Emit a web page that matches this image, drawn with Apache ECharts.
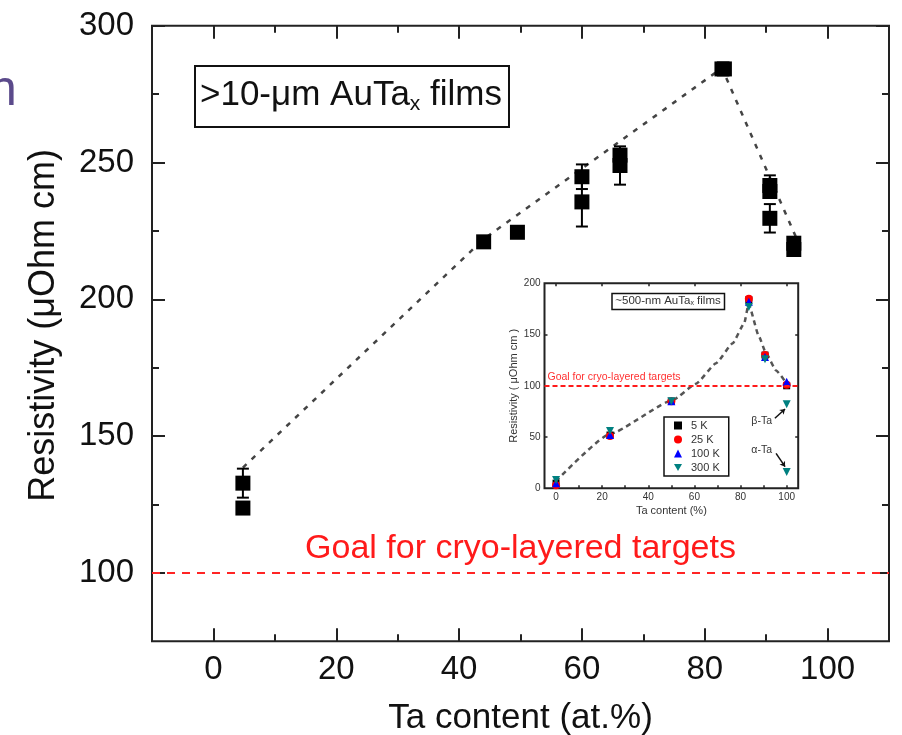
<!DOCTYPE html>
<html><head><meta charset="utf-8">
<script src="https://cdn.jsdelivr.net/npm/echarts@6/dist/echarts.min.js"></script>
<style>html,body{margin:0;padding:0;background:#fff}#c{width:902px;height:735px}</style>
</head><body><div id="c"></div>
<script>
// ---------- main plot data (>10-um AuTa_x films) ----------
const taContent   = [4.8, 4.8, 44, 49.5, 60, 60, 66.2, 66.2, 82.8, 83.2, 90.6, 90.6, 90.6, 94.5, 94.5];
const resistivity = [132.8, 123.7, 221, 224.5, 244.8, 235.6, 252.7, 248.9, 284.2, 284.2, 241.6, 239.4, 229.6, 220.5, 218.2];
const resError    = [5.3, 0, 0, 0, 4.5, 9, 0, 7, 0, 0, 3.7, 0, 5.2, 0, 0];
const guideX = [4.8, 44, 82.8, 94.8];
const guideY = [138.5, 222, 284.5, 223];
const goalValue = 100;
const goalLabel = 'Goal for cryo-layered targets';
const xMajorTicks = [0, 20, 40, 60, 80, 100];
const xMinorTicks = [10, 30, 50, 70, 90];
const yMajorTicks = [100, 150, 200, 250, 300];
const yMinorTicks = [125, 175, 225, 275];

// ---------- inset data (~500-nm AuTa_x films) ----------
const insetX    = [0, 23.4, 50, 83.6, 90.6, 100];
const inset5K   = [5, 52, 85, 184, 130, 100];
const inset25K  = [3, 51, 85, 185, 130, 101];
const inset100K = [5, 52, 85, 182, 128, 104];
const inset300K = [8, 56, 85, 177, 126, 82];
const alphaTaX = 100, alphaTa300K = 16;
const insetGuideX = [0, 23.4, 50.6, 60.7, 69.4, 76.6, 81.6, 83.5, 88, 91, 95.4, 100];
const insetGuideY = [7, 53, 86, 102, 122, 141.5, 161, 180, 148, 132, 115, 102];
const insetXTicks  = [0, 10, 20, 30, 40, 50, 60, 70, 80, 90, 100];
const insetXLabels = [0, 20, 40, 60, 80, 100];
const insetYTicks  = [50, 100, 150];
const insetYLabels = [0, 50, 100, 150, 200];
const legendNames = ['5 K', '25 K', '100 K', '300 K'];

const FONT = 'Liberation Sans, Arial, sans-serif';
const TXT = '#111';

function ax(opts) {
  const o = {
    type: 'value', gridIndex: opts.grid, min: opts.min, max: opts.max, position: opts.pos,
    axisLine: { show: false, onZero: false }, splitLine: { show: false },
    axisTick: { show: true, inside: true, length: opts.len, customValues: opts.ticks,
                lineStyle: { color: '#222', width: opts.tw || 2 } },
    axisLabel: opts.labels ? { show: true, customValues: opts.labels, fontSize: opts.fs,
                color: opts.lc || TXT, fontFamily: FONT, margin: opts.margin } : { show: false }
  };
  if (opts.name) {
    o.name = opts.name; o.nameLocation = 'middle'; o.nameGap = opts.nameGap;
    o.nameTextStyle = { fontSize: opts.nfs, color: opts.lc || TXT, fontFamily: FONT, padding: opts.npad || 0 };
  }
  return o;
}

const xAxes = [
  ax({grid:0, min:-10, max:110, pos:'bottom', len:13, ticks:xMajorTicks, labels:xMajorTicks, fs:33, margin:12,
      name:'Ta content (at.%)', nameGap:60, nfs:35}),
  ax({grid:0, min:-10, max:110, pos:'bottom', len:7, ticks:xMinorTicks}),
  ax({grid:0, min:-10, max:110, pos:'top', len:13, ticks:xMajorTicks}),
  ax({grid:0, min:-10, max:110, pos:'top', len:7, ticks:xMinorTicks}),
  ax({grid:1, min:-5, max:105, pos:'bottom', len:3, tw:1.5, ticks:insetXTicks, labels:insetXLabels, fs:10, margin:4,
      lc:'#333', name:'Ta content (%)', nameGap:17, nfs:11}),
  ax({grid:1, min:-5, max:105, pos:'top', len:3, tw:1.5, ticks:insetXLabels})
];
const yAxes = [
  ax({grid:0, min:75, max:300, pos:'left', len:13, ticks:yMajorTicks, labels:yMajorTicks, fs:33, margin:18,
      name:'Resistivity (μOhm cm)', nameGap:90, nfs:36, npad:[0, 0, 0, 16]}),
  ax({grid:0, min:75, max:300, pos:'left', len:7, ticks:yMinorTicks}),
  ax({grid:0, min:75, max:300, pos:'right', len:13, ticks:yMajorTicks}),
  ax({grid:0, min:75, max:300, pos:'right', len:7, ticks:yMinorTicks}),
  ax({grid:1, min:0, max:200, pos:'left', len:3, tw:1.5, ticks:insetYTicks, labels:insetYLabels, fs:10, margin:4,
      lc:'#333', name:'Resistivity ( μOhm cm )', nameGap:24, nfs:11}),
  ax({grid:1, min:0, max:200, pos:'right', len:3, tw:1.5, ticks:insetYTicks})
];

const mainPoints = taContent.map((x, i) => [x, resistivity[i], resError[i]]);
const pairs = (xs, ys) => xs.map((x, i) => [x, ys[i]]);
const invTri = 'path://M0,0L10,0L5,9Z';

const option = {
  animation: false,
  backgroundColor: '#fff',
  grid: [
    { left: 152, right: 13, top: 25.7, bottom: 93.7, show: true, borderColor: '#222', borderWidth: 2,
      backgroundColor: '#fff', outerBoundsMode: 'none', containLabel: false },
    { left: 544.5, right: 103.8, top: 283.3, bottom: 246.7, show: true, borderColor: '#222', borderWidth: 2,
      backgroundColor: '#fff', outerBoundsMode: 'none', containLabel: false }
  ],
  xAxis: xAxes,
  yAxis: yAxes,
  legend: {
    data: legendNames, orient: 'vertical', left: 664, top: 417,
    borderColor: '#111', borderWidth: 1.5, padding: [3, 9, 3, 10], itemGap: 3,
    itemWidth: 8, itemHeight: 8, backgroundColor: '#fff',
    textStyle: { fontSize: 11, color: '#333', fontFamily: FONT, padding: [0, 0, 0, 4] }
  },
  graphic: [
    { type: 'text', left: -11, top: 66, z: 100,
      style: { text: 'n', fontSize: 50, fill: '#5b4a8b', fontFamily: FONT } },
    { type: 'rect', shape: { x: 195, y: 66, width: 314, height: 61 }, z: 50,
      style: { fill: '#fff', stroke: '#111', lineWidth: 2 } },
    { type: 'text', x: 351, y: 95, z: 51,
      style: { text: '{a|>10-μm AuTa}{s|x}{a| films}', align: 'center', verticalAlign: 'middle',
               rich: { a: { fontSize: 35, lineHeight: 40, fontFamily: FONT, fill: TXT },
                       s: { fontSize: 21, lineHeight: 10, verticalAlign: 'bottom', fontFamily: FONT, fill: TXT } } } },
    { type: 'rect', shape: { x: 612, y: 293.5, width: 112.5, height: 16 }, z: 50,
      style: { fill: '#fff', stroke: '#111', lineWidth: 1.5 } },
    { type: 'text', x: 668, y: 301, z: 51,
      style: { text: '{a|~500-nm AuTa}{s|x}{a| films}', align: 'center', verticalAlign: 'middle',
               rich: { a: { fontSize: 11.5, lineHeight: 12, fontFamily: FONT, fill: '#333' },
                       s: { fontSize: 7, lineHeight: 3, verticalAlign: 'bottom', fontFamily: FONT, fill: '#333' } } } },
    { type: 'text', x: 772, y: 421, z: 60,
      style: { text: 'β-Ta', align: 'right', verticalAlign: 'middle', fontSize: 10.5, fill: '#333', fontFamily: FONT } },
    { type: 'text', x: 772, y: 450, z: 60,
      style: { text: 'α-Ta', align: 'right', verticalAlign: 'middle', fontSize: 10.5, fill: '#333', fontFamily: FONT } }
  ],
  series: [
    { type: 'line', name: 'guide', xAxisIndex: 0, yAxisIndex: 0, data: pairs(guideX, guideY),
      symbol: 'none', lineStyle: { color: '#444', width: 2.5, type: [5, 7] }, z: 2,
      markLine: { silent: true, symbol: ['none', 'none'], animation: false,
        data: [{ yAxis: goalValue }],
        lineStyle: { color: '#ff2424', width: 1.8, type: [8, 7] },
        label: { show: true, position: 'insideMiddleTop', formatter: goalLabel, fontSize: 34,
                 color: '#ff1a1a', fontFamily: FONT, distance: 7 } } },
    { type: 'custom', name: 'err', xAxisIndex: 0, yAxisIndex: 0, data: mainPoints, z: 3,
      encode: { x: 0, y: 1 },
      renderItem: function (params, api) {
        const x = api.value(0), y = api.value(1), e = api.value(2);
        if (!e) return null;
        const t = api.coord([x, y + e]), b = api.coord([x, y - e]);
        const hw = 6, st = { stroke: '#000', lineWidth: 2 };
        return { type: 'group', children: [
          { type: 'line', shape: { x1: t[0], y1: t[1], x2: b[0], y2: b[1] }, style: st },
          { type: 'line', shape: { x1: t[0] - hw, y1: t[1], x2: t[0] + hw, y2: t[1] }, style: st },
          { type: 'line', shape: { x1: b[0] - hw, y1: b[1], x2: b[0] + hw, y2: b[1] }, style: st }
        ] };
      } },
    { type: 'scatter', name: 'main', xAxisIndex: 0, yAxisIndex: 0, data: mainPoints, z: 4,
      symbol: 'rect', symbolSize: 15, itemStyle: { color: '#000', opacity: 1 } },

    { type: 'line', name: 'insetGuide', xAxisIndex: 4, yAxisIndex: 4, data: pairs(insetGuideX, insetGuideY),
      symbol: 'none', smooth: 0.15, smoothMonotone: 'x', lineStyle: { color: '#555', width: 2.5, type: [5, 4] }, z: 2,
      markLine: { silent: true, symbol: ['none', 'none'], animation: false,
        data: [{ yAxis: goalValue }],
        lineStyle: { color: '#ff1a1a', width: 2, type: [5, 3] },
        label: { show: true, position: 'insideStartTop', formatter: goalLabel, fontSize: 10.5,
                 color: '#ff3030', fontFamily: FONT, distance: 3 } } },
    { type: 'scatter', name: '5 K', xAxisIndex: 4, yAxisIndex: 4, data: pairs(insetX, inset5K),
      symbol: 'rect', symbolSize: 7, itemStyle: { color: '#000', opacity: 1 }, z: 4 },
    { type: 'scatter', name: '25 K', xAxisIndex: 4, yAxisIndex: 4, data: pairs(insetX, inset25K),
      symbol: 'circle', symbolSize: 8, itemStyle: { color: '#ff0000', opacity: 1 }, z: 4 },
    { type: 'scatter', name: '100 K', xAxisIndex: 4, yAxisIndex: 4, data: pairs(insetX, inset100K),
      symbol: 'triangle', symbolSize: 8, itemStyle: { color: '#0000ff', opacity: 1 }, z: 4 },
    { type: 'scatter', name: '300 K', xAxisIndex: 4, yAxisIndex: 4,
      data: pairs(insetX, inset300K).concat([[alphaTaX, alphaTa300K]]),
      symbol: invTri, symbolSize: 8, itemStyle: { color: '#008080', opacity: 1 }, z: 4,
      markLine: { silent: true, symbol: ['none', 'arrow'], symbolSize: 5, animation: false,
        lineStyle: { color: '#111', width: 1.5, type: 'solid' }, label: { show: false },
        data: [
          [{ coord: [94.9, 68.3] }, { coord: [99.3, 77.4] }],
          [{ coord: [95.4, 34.1] }, { coord: [99.3, 21.1] }]
        ] } }
  ]
};

const chart = echarts.init(document.getElementById('c'), null, { renderer: 'canvas' });
chart.setOption(option);
</script></body></html>
